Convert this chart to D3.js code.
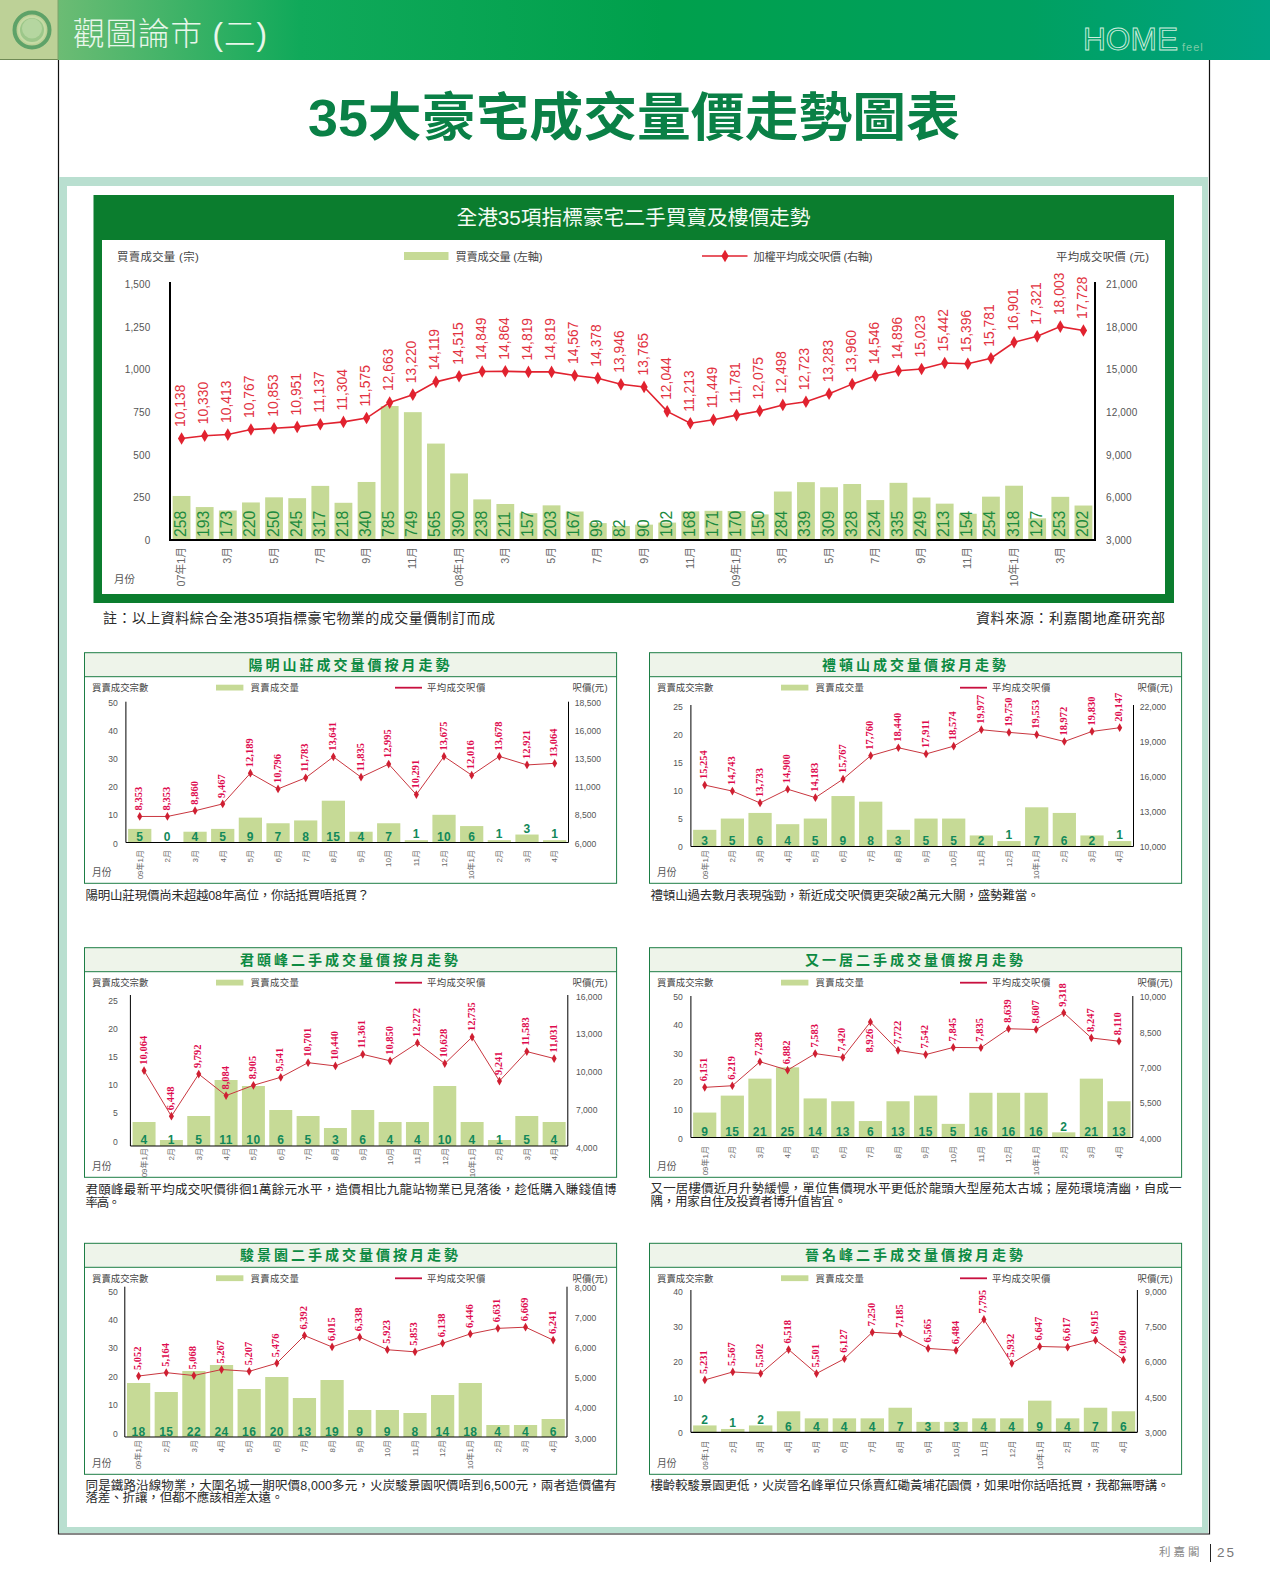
<!DOCTYPE html>
<html><head><meta charset="utf-8">
<script src="https://d3js.org/d3.v7.min.js"></script>
<style>
html,body{margin:0;padding:0;background:#fff}
svg{display:block}
text{font-family:"Liberation Sans","Noto Sans CJK TC",sans-serif}
</style></head><body><div id="c"></div>
<script>
// ---------- DATA ----------
const mainMonths=["07年1月","2月","3月","4月","5月","6月","7月","8月","9月","10月","11月","12月","08年1月","2月","3月","4月","5月","6月","7月","8月","9月","10月","11月","12月","09年1月","2月","3月","4月","5月","6月","7月","8月","9月","10月","11月","12月","10年1月","2月","3月","4月"];
const mainVolume=[258,193,173,220,250,245,317,218,340,785,749,565,390,238,211,157,203,167,99,82,90,102,168,171,170,150,284,339,309,328,234,335,249,213,154,254,318,127,253,202];
const mainPrice=[10138,10330,10413,10767,10853,10951,11137,11304,11575,12663,13220,14119,14515,14849,14864,14819,14819,14567,14378,13946,13765,12044,11213,11449,11781,12075,12498,12723,13283,13960,14546,14896,15023,15442,15396,15781,16901,17321,18003,17728];
const mainVolumeTicks=[0,250,500,750,1000,1250,1500];
const mainPriceTicks=[3000,6000,9000,12000,15000,18000,21000];
const smallMonths=["09年1月","2月","3月","4月","5月","6月","7月","8月","9月","10月","11月","12月","10年1月","2月","3月","4月"];

const yangVolume=[5,0,4,5,9,7,8,15,4,7,1,10,6,1,3,1];
const yangPrice=[8353,8353,8860,9467,12189,10796,11783,13641,11835,12995,10291,13675,12016,13678,12921,13064];
const laiVolume=[3,5,6,4,5,9,8,3,5,5,2,1,7,6,2,1];
const laiPrice=[15254,14743,13733,14900,14183,15767,17760,18440,17911,18574,19977,19750,19553,18972,19830,20147];
const kwunVolume=[4,1,5,11,10,6,5,3,6,4,4,10,4,1,5,4];
const kwunPrice=[10064,6448,9792,8084,8905,9541,10701,10440,11361,10850,12272,10628,12735,9241,11583,11031];
const yauVolume=[9,15,21,25,14,13,6,13,15,5,16,16,16,2,21,13];
const yauPrice=[6151,6219,7238,6882,7583,7420,8926,7722,7542,7845,7835,8639,8607,9318,8247,8110];
const chunVolume=[18,15,22,24,16,20,13,19,9,9,8,14,18,4,4,6];
const chunPrice=[5052,5164,5068,5267,5207,5476,6392,6015,6338,5923,5853,6138,6446,6631,6669,6241];
const jinVolume=[2,1,2,6,4,4,4,7,3,3,4,4,9,4,7,6];
const jinPrice=[5231,5567,5502,6518,5501,6127,7250,7185,6565,6484,7795,5932,6647,6617,6915,6090];

const smallTitles=["陽明山莊成交量價按月走勢","禮頓山成交量價按月走勢","君頤峰二手成交量價按月走勢","又一居二手成交量價按月走勢","駿景園二手成交量價按月走勢","晉名峰二手成交量價按月走勢"];
const smallCaptions=[
 ["陽明山莊現價尚未超越08年高位，你話抵買唔抵買？"],
 ["禮頓山過去數月表現強勁，新近成交呎價更突破2萬元大關，盛勢難當。"],
 ["君頤峰最新平均成交呎價徘徊1萬餘元水平，造價相比九龍站物業已見落後，趁低購入賺錢值博","率高。"],
 ["又一居樓價近月升勢緩慢，單位售價現水平更低於龍頭大型屋苑太古城；屋苑環境清幽，自成一","隅，用家自住及投資者博升值皆宜。"],
 ["同是鐵路沿線物業，大圍名城一期呎價8,000多元，火炭駿景園呎價唔到6,500元，兩者造價儘有","落差、折讓，但都不應該相差太遠。"],
 ["樓齡較駿景園更低，火炭晉名峰單位只係賣紅磡黃埔花園價，如果咁你話唔抵買，我都無嘢講。"]
];
const smallVolumes=[yangVolume,laiVolume,kwunVolume,yauVolume,chunVolume,jinVolume];
const smallPrices=[yangPrice,laiPrice,kwunPrice,yauPrice,chunPrice,jinPrice];
const smallVolumeTicks=[[0,10,20,30,40,50],[0,5,10,15,20,25],[0,5,10,15,20,25],[0,10,20,30,40,50],[0,10,20,30,40,50],[0,10,20,30,40]];
const smallPriceTicks=[[6000,8500,11000,13500,16000,18500],[10000,13000,16000,19000,22000],[4000,7000,10000,13000,16000],[4000,5500,7000,8500,10000],[3000,4000,5000,6000,7000,8000],[3000,4500,6000,7500,9000]];
const labelsBelow=[[],[],[],[6],[],[]];

// ---------- LAYOUT ----------
const W=1270,H=1594;
const C={green:"#0b7d2e",bar:"#c6da96",red:"#e1222f",redText:"#e2323f",crimson:"#de0a4e",gridText:"#555",mono:"#2a2a2a"};
const F="'Liberation Sans','Noto Sans CJK TC',sans-serif";
const svg=d3.select("#c").append("svg").attr("width",W).attr("height",H).attr("viewBox",`0 0 ${W} ${H}`);

// header
const defs=svg.append("defs");
const g=defs.append("linearGradient").attr("id","hdr");
[[0,"#6cbc74"],[0.2,"#10a95a"],[0.5,"#00a04c"],[0.8,"#00a060"],[1,"#00a382"]].forEach(s=>g.append("stop").attr("offset",s[0]).attr("stop-color",s[1]));
svg.append("rect").attr("x",58).attr("y",0).attr("width",W-58).attr("height",60).attr("fill","url(#hdr)");
svg.append("rect").attr("x",0).attr("y",0).attr("width",58).attr("height",59).attr("fill","#bdd197");
svg.append("line").attr("x1",0).attr("x2",58).attr("y1",59.5).attr("y2",59.5).attr("stroke","#6f8a55");
svg.append("line").attr("x1",58).attr("x2",58).attr("y1",0).attr("y2",60).attr("stroke","#7fa26a");
svg.append("circle").attr("cx",32).attr("cy",30).attr("r",17.5).attr("fill","none").attr("stroke","#5ea268").attr("stroke-width",4);
svg.append("circle").attr("cx",32).attr("cy",30).attr("r",13).attr("fill","#9cc78a").attr("stroke","#c5dba5").attr("stroke-width",2);
svg.append("circle").attr("cx",32).attr("cy",28.5).attr("r",10).attr("fill","#b5d6a0");
svg.append("text").attr("x",73).attr("y",44.5).attr("font-size",31.5).attr("font-weight",300).attr("fill","#e8f6ea").attr("textLength",194).text("觀圖論市 (二)");
svg.append("text").attr("x",1083).attr("y",49.5).attr("font-size",31).attr("fill","none").attr("stroke","#cfeede").attr("stroke-width",0.9).attr("textLength",95).attr("lengthAdjust","spacingAndGlyphs").text("HOME");
svg.append("text").attr("x",1182).attr("y",51).attr("font-size",11).attr("fill","#7fcba6").attr("letter-spacing",1).text("feel");

// page frame
svg.append("path").attr("d","M58.5 60V1534H1209.5V60").attr("fill","none").attr("stroke","#111").attr("stroke-width",1.2);
svg.append("text").attr("x",634).attr("y",136).attr("text-anchor","middle").attr("font-size",52).attr("font-weight",700).attr("fill","#0a8046").attr("textLength",652).attr("lengthAdjust","spacingAndGlyphs").text("35大豪宅成交量價走勢圖表");
svg.append("rect").attr("x",59).attr("y",177).attr("width",1149).attr("height",1356).attr("fill","#b9dfd0");
svg.append("rect").attr("x",67).attr("y",186).attr("width",1135).attr("height",1341).attr("fill","#fff");

// footer
svg.append("text").attr("x",1159).attr("y",1556).attr("font-size",11.5).attr("letter-spacing",3).attr("fill","#8a8a8a").text("利嘉閣");
svg.append("line").attr("x1",1210.5).attr("x2",1210.5).attr("y1",1544).attr("y2",1562).attr("stroke","#222");
svg.append("text").attr("x",1217).attr("y",1557).attr("font-size",13.5).attr("letter-spacing",2).attr("fill","#777").text("25");

// ---------- MAIN CHART ----------
svg.append("rect").attr("x",93.5).attr("y",195).attr("width",1080.5).attr("height",408).attr("fill",C.green);
svg.append("rect").attr("x",102).attr("y",240).attr("width",1063).attr("height",354).attr("fill","#fff");
svg.append("text").attr("x",456.5).attr("y",224.5).attr("font-size",20.7).attr("fill","#f4fbf4").attr("textLength",354).text("全港35項指標豪宅二手買賣及樓價走勢");

(function(){
 const L={x0:170,x1:1095,y0:540,y1:284};
 const idx=mainMonths.map((d,i)=>i);
 const x=d3.scaleBand().domain(idx).range([L.x0,L.x1]).paddingInner(0.23).paddingOuter(0.115);
 const yV=d3.scaleLinear().domain([0,1500]).range([L.y0,L.y1]);
 const yP=d3.scaleLinear().domain([3000,21000]).range([L.y0,L.y1]);
 const cx=i=>x(i)+x.bandwidth()/2;
 const g=svg.append("g");
 g.selectAll("rect.b").data(mainVolume).join("rect").attr("x",(d,i)=>x(i)).attr("width",x.bandwidth()).attr("y",d=>yV(d)).attr("height",d=>L.y0-yV(d)).attr("fill",C.bar);
 g.selectAll("text.bv").data(mainVolume).join("text").attr("class","bv")
  .attr("transform",(d,i)=>`translate(${cx(i)+4.5},${L.y0-3}) rotate(-90)`).attr("font-size",15.8).attr("fill","#1c8a3e").text(d=>d);
 const line=d3.line().x((d,i)=>cx(i)).y(d=>yP(d));
 g.append("path").datum(mainPrice).attr("d",line).attr("fill","none").attr("stroke",C.red).attr("stroke-width",1.6);
 g.selectAll("path.m").data(mainPrice).join("path").attr("class","m").attr("d",d3.symbol(d3.symbolDiamond,46)).attr("transform",(d,i)=>`translate(${cx(i)},${yP(d)})`).attr("fill",C.red);
 g.selectAll("text.pv").data(mainPrice).join("text").attr("class","pv")
  .attr("transform",(d,i)=>`translate(${cx(i)+3.5},${yP(d)-11.5}) rotate(-90)`).attr("font-size",13.9).attr("fill",C.redText).text(d3.format(","));
 const ax=(a,anchor)=>{a.select(".domain").remove();a.selectAll("text").attr("x",0).attr("font-size",10).attr("font-family",F).attr("fill",C.gridText).attr("text-anchor",anchor).attr("dy","0.35em").attr("letter-spacing",0.15);};
 const l=g.append("g").attr("transform",`translate(150.5,0)`).call(d3.axisLeft(yV).tickValues(mainVolumeTicks).tickSize(0).tickFormat(d3.format(",")));
 ax(l,"end");
 const r=g.append("g").attr("transform",`translate(1106,0)`).call(d3.axisRight(yP).tickValues(mainPriceTicks).tickSize(0).tickFormat(d3.format(",")));
 ax(r,"start");
 const xa=g.append("g").attr("transform",`translate(0,547)`).call(d3.axisBottom(x).tickValues(idx.filter(i=>i%2===0)).tickSize(0).tickFormat(i=>mainMonths[i]));
 xa.select(".domain").remove();
 xa.selectAll("text").attr("y",null).attr("dy",null).attr("transform","rotate(-90) translate(0,3.5)").attr("text-anchor","end").attr("font-size",10.8).attr("font-family",F).attr("fill","#666");
 const ln=(x1,y1,x2,y2,w)=>g.append("line").attr("x1",x1).attr("y1",y1).attr("x2",x2).attr("y2",y2).attr("stroke","#000").attr("stroke-width",w);
 ln(L.x0,282,L.x0,L.y0+1,2);ln(L.x1,282,L.x1,L.y0+1,2);ln(L.x0-1,L.y0,L.x1+1,L.y0,2);
 const t=(x,y,s,fs,len,fill)=>{const e=g.append("text").attr("x",x).attr("y",y).attr("font-size",fs).attr("fill",fill||"#444").text(s);if(len)e.attr("textLength",len);return e;};
 t(117,261,"買賣成交量 (宗)",11.4,81.7);
 t(1056,261,"平均成交呎價 (元)",11.4,93);
 t(455.5,261,"買賣成交量 (左軸)",11.2,87);
 t(753.5,261,"加權平均成交呎價 (右軸)",11.2,119);
 t(114,583,"月份",10.5,0,"#555");
 g.append("rect").attr("x",404).attr("y",252).attr("width",44.5).attr("height",8).attr("fill",C.bar);
 g.append("line").attr("x1",702).attr("x2",747.5).attr("y1",256).attr("y2",256).attr("stroke",C.red).attr("stroke-width",1.5);
 g.append("path").attr("d",d3.symbol(d3.symbolDiamond,46)).attr("transform","translate(725,256)").attr("fill",C.red);
})();
svg.append("text").attr("x",103).attr("y",623).attr("font-size",14).attr("fill",C.mono).attr("textLength",392).text("註：以上資料綜合全港35項指標豪宅物業的成交量價制訂而成");
svg.append("text").attr("x",976).attr("y",623).attr("font-size",14).attr("fill",C.mono).attr("textLength",189).text("資料來源：利嘉閣地產研究部");

// ---------- SMALL CHARTS ----------
const layouts=[
 {bx:84.5,by:652.7,bb:883.3,ax0:125.9,ax1:568.5,axT:701.7,axB:842.5,barB:843,barT:702,tickB:843,tickT:702,priceB:843,priceT:702,rx:574.8,xy:850,lblOff:6,above:10,capY:[900],capLen:[284]},
 {bx:649.5,by:652.7,bb:883.3,ax0:690.9,ax1:1133.5,axT:705,axB:846.5,barB:846.7,barT:706,tickB:846.7,tickT:706,priceB:846.7,priceT:706,rx:1139.8,xy:850,lblOff:6,above:10,capY:[900],capLen:[389]},
 {bx:84.5,by:947.7,bb:1177.3,ax0:130.4,ax1:567.8,axT:995,axB:1146,barB:1146,barT:996,tickB:1141,tickT:1000.3,priceB:1147,priceT:996,rx:575.9,xy:1148,lblOff:6,above:0,capY:[1193.5,1206.8],capLen:[531,35]},
 {bx:649.5,by:947.7,bb:1177.3,ax0:690.9,ax1:1132.8,axT:996,axB:1137.5,barB:1138,barT:996.7,tickB:1138,tickT:996.7,priceB:1138,priceT:996.7,rx:1139.8,xy:1146,lblOff:6,above:10,capY:[1192.5,1206],capLen:[531,196]},
 {bx:84.5,by:1243.3,bb:1474.3,ax0:124.8,ax1:567,axT:1286.7,axB:1437,barB:1437,barT:1287,tickB:1433,tickT:1291,priceB:1438,priceT:1287,rx:574.8,xy:1440,lblOff:5.5,above:0,capY:[1489.5,1502],capLen:[531,198]},
 {bx:649.5,by:1243.3,bb:1474.3,ax0:690.9,ax1:1137.4,axT:1290,axB:1432.3,barB:1432.5,barT:1291,tickB:1432.5,tickT:1291,priceB:1432.5,priceT:1291,rx:1145,xy:1440.5,lblOff:6,above:10,capY:[1489.5],capLen:[519]}
];
const BW=532.1;
layouts.forEach((L,k)=>{
 const vol=smallVolumes[k],pr=smallPrices[k],vt=smallVolumeTicks[k],pt=smallPriceTicks[k];
 const g=svg.append("g");
 g.append("rect").attr("x",L.bx).attr("y",L.by).attr("width",BW).attr("height",24).attr("fill","#eef4ea");
 g.append("rect").attr("x",L.bx).attr("y",L.by).attr("width",BW).attr("height",L.bb-L.by).attr("fill","none").attr("stroke","#1d7d45").attr("stroke-width",1);
 g.append("line").attr("x1",L.bx).attr("x2",L.bx+BW).attr("y1",L.by+24).attr("y2",L.by+24).attr("stroke","#1d7d45");
 g.append("text").attr("x",L.bx+BW/2).attr("y",L.by+17).attr("text-anchor","middle").attr("font-size",14).attr("font-weight",700).attr("letter-spacing",3).attr("fill","#0c8a42").text(smallTitles[k]);
 const ly=L.by+38.5, t=(x,y,s,fs,ls,fill)=>g.append("text").attr("x",x).attr("y",y).attr("font-size",fs).attr("letter-spacing",ls||0).attr("fill",fill||"#444").text(s);
 const o=L.bx-84.5;
 t(92+o,ly,"買賣成交宗數",9.4);
 g.append("rect").attr("x",216+o).attr("y",ly-6.5).attr("width",27.4).attr("height",5.8).attr("fill",C.bar);
 t(250.4+o,ly,"買賣成交量",9.4,0.4);
 g.append("line").attr("x1",395+o).attr("x2",422+o).attr("y1",ly-3.5).attr("y2",ly-3.5).attr("stroke","#c8103f").attr("stroke-width",1.8);
 t(427+o,ly,"平均成交呎價",9.4,0.4);
 t(572.4+o,ly,"呎價(元)",9.4,0.2);
 t(92+o,L.by+(k<2?223:k<4?222.5:223.5),"月份",9.8,0,"#555");
 const idx=d3.range(vol.length);
 const x=d3.scaleBand().domain(idx).range([L.ax0,L.ax1]).paddingInner(0.16).paddingOuter(0.08);
 const cx=i=>x(i)+x.bandwidth()/2;
 const yV=d3.scaleLinear().domain([0,vt[vt.length-1]]).range([L.barB,L.barT]);
 const yTick=d3.scaleLinear().domain([0,vt[vt.length-1]]).range([L.tickB,L.tickT]);
 const yP=d3.scaleLinear().domain([pt[0],pt[pt.length-1]]).range([L.priceB,L.priceT]);
 g.selectAll("rect.b").data(vol).join("rect").attr("class","b").attr("x",(d,i)=>x(i)).attr("width",x.bandwidth()).attr("y",d=>yV(d)).attr("height",d=>L.barB-yV(d)).attr("fill",C.bar);
 g.selectAll("text.bv").data(vol).join("text").attr("class","bv").attr("x",(d,i)=>cx(i)).attr("text-anchor","middle")
  .attr("y",d=>{const h=L.barB-yV(d);return (h<L.above?L.barB-h-L.lblOff:L.barB-L.lblOff)+4.3;})
  .attr("font-size",12).attr("font-weight",700).attr("letter-spacing",0.4).attr("fill","#12895a").text(d=>d);
 const line=d3.line().x((d,i)=>cx(i)).y(d=>yP(d));
 g.append("path").datum(pr).attr("d",line).attr("fill","none").attr("stroke","#c9363f").attr("stroke-width",1);
 g.selectAll("path.m").data(pr).join("path").attr("class","m").attr("d",d3.symbol(d3.symbolDiamond,22)).attr("transform",(d,i)=>`translate(${cx(i)},${yP(d)})`).attr("fill","#cf1f32");
 g.selectAll("text.pv").data(pr).join("text").attr("class","pv")
  .attr("transform",(d,i)=>labelsBelow[k].includes(i)?`translate(${cx(i)+3},${yP(d)+9+21.5}) rotate(-90)`:`translate(${cx(i)+2.5},${yP(d)-6}) rotate(-90)`)
  .attr("font-size",10.5).attr("font-weight",700).attr("style","font-family:'Liberation Serif',serif").attr("fill",C.crimson).text(d3.format(","));
 const l=g.append("g").attr("transform",`translate(${L.bx+33.3},0)`).call(d3.axisLeft(yTick).tickValues(vt).tickSize(0).tickFormat(d3.format(",")));
 l.select(".domain").remove();
 l.selectAll("text").attr("x",0).attr("dy","0.35em").attr("font-size",8.6).attr("font-family",F).attr("fill",C.gridText).attr("text-anchor","end");
 const r=g.append("g").attr("transform",`translate(${L.rx},0)`).call(d3.axisRight(yP).tickValues(pt).tickSize(0).tickFormat(d3.format(",")));
 r.select(".domain").remove();
 r.selectAll("text").attr("x",0).attr("dy","0.35em").attr("font-size",8.6).attr("font-family",F).attr("fill",C.gridText).attr("text-anchor","start");
 const xa=g.append("g").attr("transform",`translate(0,${L.xy})`).call(d3.axisBottom(x).tickSize(0).tickFormat(i=>smallMonths[i]));
 xa.select(".domain").remove();
 xa.selectAll("text").attr("y",null).attr("dy",null).attr("transform","rotate(-90) translate(0,2.8)").attr("text-anchor","end").attr("font-size",8).attr("font-family",F).attr("fill","#666");
 const ln=(x1,y1,x2,y2,w)=>g.append("line").attr("x1",x1).attr("y1",y1).attr("x2",x2).attr("y2",y2).attr("stroke","#000").attr("stroke-width",w);
 ln(L.ax0,L.axT,L.ax0,L.axB,1);ln(L.ax1,L.axT,L.ax1,L.axB,1);ln(L.ax0,L.axB,L.ax1,L.axB,1.2);
 smallCaptions[k].forEach((c,i)=>{g.append("text").attr("x",L.bx+1).attr("y",L.capY[i]).attr("font-size",12.5).attr("textLength",L.capLen[i]).attr("fill",C.mono).text(c);});
});
</script></body></html>
